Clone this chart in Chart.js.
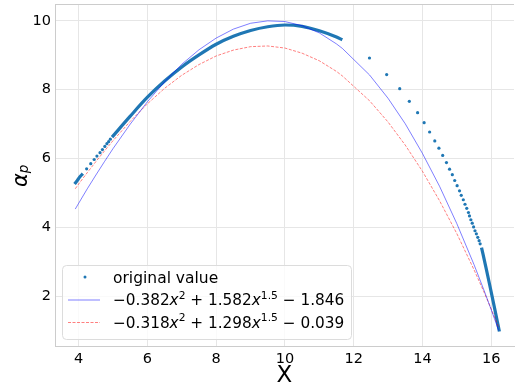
<!DOCTYPE html>
<html>
<head>
<meta charset="utf-8">
<script src="https://cdn.jsdelivr.net/npm/chart.js@4"></script>
<style>
  html, body { margin: 0; padding: 0; background: #fff; }
  canvas { display: block; }
</style>
</head>
<body>
<canvas id="graph-canvas" width="518" height="386"></canvas>
<script>
// original values shown as separate dots
const dotX = [4.23, 4.35, 4.45, 4.53, 4.62, 4.69, 4.76, 4.82, 4.87, 4.92,
    12.46, 12.96, 13.34, 13.62, 13.86, 14.05, 14.21, 14.36, 14.48, 14.59, 14.70, 14.79, 14.87, 14.94,
    15.01, 15.08, 15.13, 15.19, 15.24, 15.29, 15.34, 15.37, 15.41, 15.45, 15.49, 15.53, 15.57, 15.61, 15.65, 15.68];
const dotY = [5.70, 5.85, 5.97, 6.07, 6.17, 6.26, 6.35, 6.43, 6.49, 6.56,
    8.92, 8.44, 8.03, 7.66, 7.33, 7.04, 6.77, 6.51, 6.30, 6.09, 5.88, 5.69, 5.53, 5.36,
    5.21, 5.06, 4.93, 4.80, 4.67, 4.55, 4.43, 4.33, 4.22, 4.12, 4.01, 3.90, 3.81, 3.71, 3.61, 3.52];

// original values where the dots are packed so tight they form a thick line (null = gap)
const runX = [3.88, 3.95, 4.03, 4.12, 4.12,
    4.97, 5.5, 6.0, 6.5, 7.0, 7.5, 8.0, 8.5, 9.0, 9.5, 10.0, 10.5, 11.0, 11.5, 11.67, 11.67,
    15.72, 15.85, 15.98, 16.11, 16.24];
const runY = [5.26, 5.35, 5.46, 5.56, null,
    6.62, 7.23, 7.78, 8.25, 8.66, 9.01, 9.32, 9.55, 9.72, 9.83, 9.88, 9.84, 9.71, 9.53, 9.45, null,
    3.41, 2.83, 2.22, 1.60, 0.97];

// fitted curves
const fitX = [3.9, 4.0, 4.25, 4.5, 4.75, 5.0, 5.5, 6.0, 6.5, 7.0, 7.5, 8.0, 8.5, 9.0, 9.5, 10.0,
    10.5, 11.0, 11.5, 11.67, 12.46, 13.0, 13.5, 14.0, 14.5, 15.0, 15.5, 15.8, 16.0, 16.22];
const fit1Y = [4.53, 4.70, 5.12, 5.52, 5.91, 6.29, 7.00, 7.65, 8.23, 8.74, 9.16, 9.50, 9.76, 9.93, 10.00, 9.98,
    9.86, 9.65, 9.33, 9.20, 8.43, 7.75, 7.01, 6.15, 5.19, 4.11, 2.92, 2.15, 1.61, 1.00];
const fit2Y = [5.12, 5.26, 5.59, 5.91, 6.22, 6.52, 7.08, 7.59, 8.04, 8.42, 8.73, 8.98, 9.15, 9.25, 9.27, 9.21,
    9.06, 8.84, 8.53, 8.40, 7.68, 7.06, 6.39, 5.63, 4.77, 3.82, 2.77, 2.10, 1.63, 1.09];

const xTicks = [4, 6, 8, 10, 12, 14, 16];
const yTicks = [2, 4, 6, 8, 10];

const dataLabel = 'original value';
const fit1Label = [{t: '\u22120.382'}, {t: 'x', it: true}, {t: '2', sup: true}, {t: ' + 1.582'},
    {t: 'x', it: true}, {t: '1.5', sup: true}, {t: ' \u2212 1.846'}];
const fit2Label = [{t: '\u22120.318'}, {t: 'x', it: true}, {t: '2', sup: true}, {t: ' + 1.298'},
    {t: 'x', it: true}, {t: '1.5', sup: true}, {t: ' \u2212 0.039'}];

const FONT = '"DejaVu Sans", sans-serif';
const dotColor = '#1f77b4';
const blueLine = 'rgba(0,0,255,0.5)';
const redLine = 'rgba(255,0,0,0.5)';

const pts = (xs, ys) => xs.map((x, i) => ({x: x, y: ys[i]}));

function drawPieces(c, pieces, x, y, size)
{
    for (const p of pieces)
    {
        const fs = p.sup ? size * 0.7 : size;
        c.font = (p.it ? 'italic ' : '') + fs + 'px ' + FONT;
        c.fillText(p.t, x, p.sup ? y - size * 0.42 : y);
        x += c.measureText(p.t).width;
    }
}

const decor = {
    id: 'decor',
    beforeDatasetsDraw(chart)
    {
        const c = chart.ctx, a = chart.chartArea;
        c.save();
        c.strokeStyle = '#cccccc';
        c.lineWidth = 1;
        c.beginPath();
        c.moveTo(a.left, a.top + 0.5);
        c.lineTo(a.right, a.top + 0.5);
        c.stroke();
        c.restore();
    },
    afterDraw(chart)
    {
        const c = chart.ctx, a = chart.chartArea;
        c.save();
        c.fillStyle = '#000';
        // axis titles
        c.font = '23px ' + FONT;
        c.textAlign = 'center';
        c.textBaseline = 'alphabetic';
        c.fillText('X', (a.left + a.right) / 2, 381.5);
        c.translate(26.5, (a.top + a.bottom) / 2 + 12);
        c.rotate(-Math.PI / 2);
        c.textAlign = 'left';
        c.font = 'italic 21px ' + FONT;
        c.fillText('\u03b1', 0, 0);
        const w = c.measureText('\u03b1').width;
        c.font = 'italic 13.5px ' + FONT;
        c.fillText('p', w, 1.5);
        c.restore();

        // legend
        c.save();
        const bx = 62.5, by = 265.5, bw = 289, bh = 74;
        c.beginPath();
        c.roundRect(bx, by, bw, bh, 4);
        c.fillStyle = 'rgba(255,255,255,0.8)';
        c.fill();
        c.strokeStyle = '#dcdcdc';
        c.lineWidth = 1;
        c.stroke();

        c.fillStyle = dotColor;
        c.beginPath();
        c.arc(85, 277, 1.5, 0, Math.PI * 2);
        c.fill();

        c.lineWidth = 1;
        c.strokeStyle = blueLine;
        c.beginPath();
        c.moveTo(68, 300);
        c.lineTo(100, 300);
        c.stroke();

        c.strokeStyle = redLine;
        c.setLineDash([3, 1.5]);
        c.beginPath();
        c.moveTo(68, 322.5);
        c.lineTo(100, 322.5);
        c.stroke();
        c.setLineDash([]);

        c.fillStyle = '#000';
        c.textAlign = 'left';
        c.textBaseline = 'alphabetic';
        c.font = '15.5px ' + FONT;
        c.fillText(dataLabel, 113, 282.5);
        drawPieces(c, fit1Label, 113, 305, 15.3);
        drawPieces(c, fit2Label, 113, 327.5, 15.3);
        c.restore();
    }
};

const ctx = document.getElementById('graph-canvas');

var chart = new Chart(ctx,
    {
    type: 'scatter',
    data:
    {
        datasets:
        [{
            label: 'fit1',
            data: pts(fitX, fit1Y),
            showLine: true,
            borderColor: blueLine,
            borderWidth: 1,
            pointRadius: 0,
            order: 0
        },
        {
            label: 'fit2',
            data: pts(fitX, fit2Y),
            showLine: true,
            borderColor: redLine,
            borderWidth: 1,
            borderDash: [3, 1.5],
            pointRadius: 0,
            order: 0
        },
        {
            label: dataLabel,
            data: pts(dotX, dotY),
            backgroundColor: dotColor,
            borderWidth: 0,
            pointRadius: 1.6,
            order: 1
        },
        {
            label: 'dense',
            data: pts(runX, runY),
            showLine: true,
            spanGaps: false,
            cubicInterpolationMode: 'monotone',
            borderColor: dotColor,
            borderWidth: 3.2,
            pointRadius: 0,
            order: 1
        }]
    },
    options:
    {
        responsive: false,
        animation: false,
        devicePixelRatio: 1,
        layout: { padding: { top: 3, right: 0, bottom: 0, left: 0 } },
        plugins:
        {
            legend: { display: false },
            tooltip: { enabled: false }
        },
        scales:
        {
            x:
            {
                type: 'linear',
                min: 3.31,
                max: 16.665,
                afterBuildTicks: (s) => { s.ticks = xTicks.map(v => ({value: v})); },
                afterFit: (s) => { s.height = 40; s.paddingLeft = 0; s.paddingRight = 0; },
                grid: { color: '#e6e6e6', drawTicks: false },
                border: { color: '#cccccc' },
                ticks: { color: '#000', padding: 5, maxRotation: 0, font: { family: FONT, size: 14.5 } }
            },
            y:
            {
                type: 'linear',
                min: 0.55,
                max: 10.49,
                afterBuildTicks: (s) => { s.ticks = yTicks.map(v => ({value: v})); },
                afterFit: (s) => { s.width = 55; s.paddingTop = 0; s.paddingBottom = 0; },
                grid: { color: '#e6e6e6', drawTicks: false },
                border: { color: '#cccccc' },
                ticks: { color: '#000', padding: 4, font: { family: FONT, size: 14.5 } }
            }
        }
    },
    plugins: [decor]
});
</script>
</body>
</html>
